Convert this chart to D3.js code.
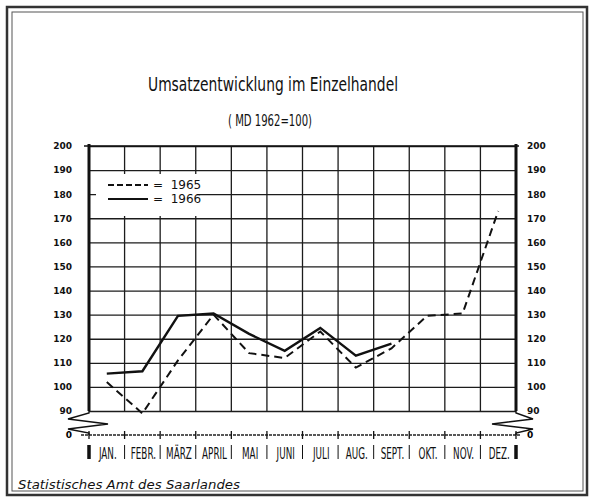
<!DOCTYPE html>
<html>
<head>
<meta charset="utf-8">
<script src="https://cdn.jsdelivr.net/npm/d3@7"></script>
<style>
  html, body { margin: 0; padding: 0; background: #fff; }
  svg { display: block; }
  .grid line { stroke: #1c1c1c; stroke-width: 1.3; }
  .ylab text { font-family: "DejaVu Sans", sans-serif; font-size: 9px; font-weight: bold; fill: #111; }
</style>
</head>
<body>
<script>
const months = ["JAN.", "FEBR.", "MÄRZ", "APRIL", "MAI", "JUNI", "JULI", "AUG.", "SEPT.", "OKT.", "NOV.", "DEZ."];
const values1965 = [102, 89, 111, 130, 114, 112, 123, 108, 116, 129.5, 130.5, 173];
const values1966 = [105.5, 106.5, 129.5, 130.5, 122, 115, 124.5, 113, 118];
const yTicks = [90, 100, 110, 120, 130, 140, 150, 160, 170, 180, 190, 200];

const W = 591, H = 501;
const plotLeft = 89, plotRight = 516, plotTop = 146, plotBottom = 411, zeroY = 435;

const svg = d3.select("body").append("svg")
  .attr("width", W)
  .attr("height", H);

// frame
svg.append("rect").attr("x", 0).attr("y", 0).attr("width", W).attr("height", H).attr("fill", "#fff");
svg.append("rect").attr("x", 7).attr("y", 7).attr("width", 580).attr("height", 488)
  .attr("fill", "none").attr("stroke", "#333").attr("stroke-width", 2.5);
svg.append("rect").attr("x", 12).attr("y", 12).attr("width", 571).attr("height", 479)
  .attr("fill", "none").attr("stroke", "#555").attr("stroke-width", 1);

// titles
svg.append("text")
  .attr("x", 273).attr("y", 91)
  .attr("text-anchor", "middle")
  .attr("textLength", 250).attr("lengthAdjust", "spacingAndGlyphs")
  .style("font-family", "'DejaVu Sans', sans-serif").style("font-size", "20px").style("fill", "#111")
  .text("Umsatzentwicklung im Einzelhandel");

svg.append("text")
  .attr("x", 270).attr("y", 126)
  .attr("text-anchor", "middle")
  .attr("textLength", 84).attr("lengthAdjust", "spacingAndGlyphs")
  .style("font-family", "'DejaVu Sans', sans-serif").style("font-size", "15px").style("fill", "#111")
  .text("( MD 1962=100)");

// scales
const x = d3.scaleBand().domain(months).range([plotLeft, plotRight]).padding(0);
const y = d3.scaleLinear().domain([90, 200]).range([plotBottom, plotTop]);
const cx = m => x(m) + x.bandwidth() / 2;

// horizontal grid via axis
svg.append("g")
  .attr("class", "grid")
  .attr("transform", `translate(${plotLeft},0)`)
  .call(d3.axisLeft(y).tickValues(yTicks).tickSize(-(plotRight - plotLeft)).tickFormat(""))
  .call(g => g.select(".domain").remove());

// vertical grid lines at month boundaries
const bounds = months.map(m => x(m)).concat([plotRight]);
svg.append("g").attr("class", "grid")
  .selectAll("line")
  .data(bounds)
  .join("line")
  .attr("x1", d => d).attr("x2", d => d)
  .attr("y1", plotTop).attr("y2", plotBottom);

// legend box (covers grid)
svg.append("rect")
  .attr("x", 96).attr("y", 174).attr("width", 101).attr("height", 42)
  .attr("fill", "#fff");

// axes bold
svg.append("line").attr("x1", plotLeft).attr("x2", plotLeft).attr("y1", plotTop - 2).attr("y2", plotBottom)
  .attr("stroke", "#111").attr("stroke-width", 3);
svg.append("line").attr("x1", plotRight).attr("x2", plotRight).attr("y1", plotTop - 2).attr("y2", plotBottom)
  .attr("stroke", "#111").attr("stroke-width", 3);
svg.append("line").attr("x1", plotLeft - 5).attr("x2", plotRight + 3).attr("y1", plotTop).attr("y2", plotTop)
  .attr("stroke", "#111").attr("stroke-width", 1.5);

// y labels left and right
svg.append("g").attr("class", "ylab")
  .attr("transform", `translate(${plotLeft},0)`)
  .call(d3.axisLeft(y).tickValues(yTicks).tickSize(0).tickPadding(17))
  .call(g => g.select(".domain").remove());
svg.append("g").attr("class", "ylab")
  .attr("transform", `translate(${plotRight},0)`)
  .call(d3.axisRight(y).tickValues(yTicks).tickSize(0).tickPadding(11))
  .call(g => g.select(".domain").remove());

// zero labels
svg.append("text").attr("x", plotLeft - 17).attr("y", zeroY + 3)
  .attr("text-anchor", "end")
  .style("font-family", "'DejaVu Sans', sans-serif").style("font-size", "9px").style("font-weight", "bold")
  .text("0");
svg.append("text").attr("x", plotRight + 11).attr("y", zeroY + 3)
  .style("font-family", "'DejaVu Sans', sans-serif").style("font-size", "9px").style("font-weight", "bold")
  .text("0");

// zigzag breaks
const zigL = [[plotLeft, plotBottom], [plotLeft, plotBottom + 2], [plotLeft - 21, 419], [plotLeft + 19, 424], [plotLeft - 21, 429], [plotLeft, zeroY - 2], [plotLeft, zeroY]];
const zigR = [[plotRight, plotBottom], [plotRight, plotBottom + 2], [plotRight + 17, 419], [plotRight - 24, 424], [plotRight + 17, 429], [plotRight, zeroY - 2], [plotRight, zeroY]];
const zline = d3.line();
svg.append("path").attr("d", zline(zigL)).attr("fill", "none").attr("stroke", "#111").attr("stroke-width", 1.4);
svg.append("path").attr("d", zline(zigR)).attr("fill", "none").attr("stroke", "#111").attr("stroke-width", 1.4);

// zero baseline with ticks
svg.append("line").attr("x1", plotLeft - 8).attr("x2", plotRight + 4).attr("y1", zeroY).attr("y2", zeroY)
  .attr("stroke", "#222").attr("stroke-width", 1.3).attr("stroke-dasharray", "3,1");
svg.append("g").selectAll("line")
  .data(bounds)
  .join("line")
  .attr("x1", d => d).attr("x2", d => d)
  .attr("y1", zeroY - 4).attr("y2", zeroY + 4)
  .attr("stroke", "#111").attr("stroke-width", 1.3);

// month labels with separators
const labelY = 459;
svg.append("g").selectAll("line")
  .data(bounds)
  .join("line")
  .attr("x1", d => d).attr("x2", d => d)
  .attr("y1", labelY - 14).attr("y2", labelY)
  .attr("stroke", "#111")
  .attr("stroke-width", (d, i) => (i === 0 || i === bounds.length - 1) ? 3.5 : 1);
svg.append("g").selectAll("text")
  .data(months)
  .join("text")
  .attr("transform", d => `translate(${cx(d) + 1},${labelY}) scale(0.55,1)`)
  .attr("text-anchor", "middle")
  .style("font-family", "'DejaVu Sans', sans-serif")
  .style("font-size", "16px")
  .style("fill", "#111")
  .text(d => d);

// data lines
const line = d3.line()
  .x((d, i) => cx(months[i]))
  .y(d => y(d));

svg.append("path")
  .datum(values1965)
  .attr("d", line)
  .attr("fill", "none")
  .attr("stroke", "#111")
  .attr("stroke-width", 2)
  .attr("stroke-dasharray", "8,5");

svg.append("path")
  .datum(values1966)
  .attr("d", line)
  .attr("fill", "none")
  .attr("stroke", "#111")
  .attr("stroke-width", 2.4)
  .attr("stroke-linejoin", "miter");

// legend
const legend = svg.append("g");
legend.append("line").attr("x1", 108).attr("x2", 148).attr("y1", 185).attr("y2", 185)
  .attr("stroke", "#111").attr("stroke-width", 2).attr("stroke-dasharray", "6,3");
legend.append("line").attr("x1", 108).attr("x2", 148).attr("y1", 199).attr("y2", 199)
  .attr("stroke", "#111").attr("stroke-width", 2);
const legendItems = ["1965", "1966"];
legend.selectAll("text")
  .data(legendItems)
  .join("text")
  .attr("x", 153)
  .attr("y", (d, i) => 189 + i * 14)
  .style("font-family", "'DejaVu Sans', sans-serif")
  .style("font-size", "12px")
  .style("fill", "#111")
  .attr("xml:space", "preserve")
  .text(d => "=  " + d);

// source
svg.append("text")
  .attr("x", 18).attr("y", 489)
  .attr("textLength", 222).attr("lengthAdjust", "spacingAndGlyphs")
  .style("font-family", "'DejaVu Sans', sans-serif")
  .style("font-size", "13px").style("font-style", "italic").style("fill", "#111")
  .text("Statistisches Amt des Saarlandes");
</script>
</body>
</html>
